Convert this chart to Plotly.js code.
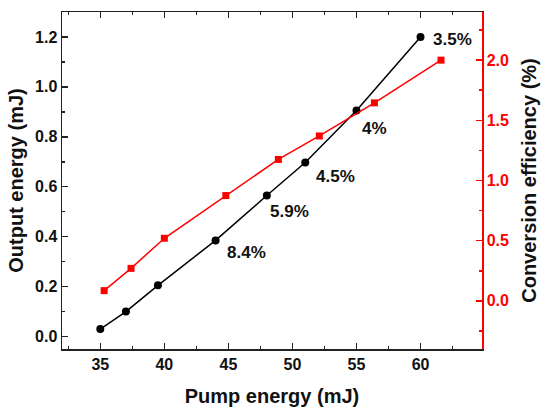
<!DOCTYPE html>
<html><head><meta charset="utf-8">
<script src="https://cdn.plot.ly/plotly-3.0.1.min.js"></script>
<style>html,body{margin:0;padding:0;background:#fff}#c{width:550px;height:413px}</style>
</head><body><div id="c"></div>
<script>
var pumpOut = [35, 37, 39.5, 44, 48, 51, 55, 60];
var outputEnergy = [0.03, 0.10, 0.205, 0.385, 0.565, 0.697, 0.905, 1.2];
var pumpEff = [35.3, 37.4, 40, 44.8, 48.9, 52.1, 56.4, 61.6];
var conversionEff = [0.085, 0.27, 0.52, 0.875, 1.175, 1.37, 1.645, 2.0];
var labelText = ["8.4%", "5.9%", "4.5%", "4%", "3.5%"];
var labelX = [46.45, 49.8, 53.4, 56.4, 62.5];
var labelY = [0.335, 0.50, 0.64, 0.835, 1.19];

var F = "Liberation Sans, Arial, sans-serif";
var axc = "#222";
var traces = [
  {x: pumpOut, y: outputEnergy, mode: "lines+markers", type: "scatter",
   line: {color: "#000", width: 1.5}, marker: {symbol: "circle", size: 8, color: "#000"},
   yaxis: "y", showlegend: false, hoverinfo: "skip"},
  {x: pumpEff, y: conversionEff, mode: "lines+markers", type: "scatter",
   line: {color: "#ff0000", width: 1.5}, marker: {symbol: "square", size: 7, color: "#ff0000"},
   yaxis: "y2", showlegend: false, hoverinfo: "skip"}
];
var ann = labelText.map(function (t, i) {
  return {x: labelX[i], y: labelY[i], xref: "x", yref: "y", text: t, showarrow: false,
          xanchor: "center", yanchor: "middle", font: {family: F, size: 17, color: "#111", weight: "bold"}};
});
var layout = {
  width: 550, height: 413,
  margin: {l: 62, r: 68, t: 12, b: 64},
  paper_bgcolor: "#fff", plot_bgcolor: "#fff",
  annotations: ann,
  xaxis: {range: [32.01, 64.8], tickvals: [35, 40, 45, 50, 55, 60], ticks: "inside", ticklen: 6, tickwidth: 1.5,
          tickcolor: axc, showline: true, linecolor: axc, linewidth: 1.5, mirror: "ticks", showgrid: false, zeroline: false,
          minor: {dtick: 2.5, tick0: 0, ticks: "inside", ticklen: 3, tickwidth: 1.5, tickcolor: axc, showgrid: false},
          tickfont: {family: F, size: 16, color: "#111", weight: "bold"},
          title: {text: "Pump energy (mJ)", font: {family: F, size: 20, color: "#111", weight: "bold"}, standoff: 17}},
  yaxis: {range: [-0.05, 1.3], tickvals: [0, 0.2, 0.4, 0.6, 0.8, 1.0, 1.2], ticktext: ["0.0","0.2","0.4","0.6","0.8","1.0","1.2"],
          ticks: "inside", ticklen: 6, tickwidth: 1.5, tickcolor: axc, showline: true, linecolor: axc, linewidth: 1.5,
          showgrid: false, zeroline: false,
          minor: {dtick: 0.1, tick0: 0, ticks: "inside", ticklen: 3, tickwidth: 1.5, tickcolor: axc, showgrid: false},
          tickfont: {family: F, size: 16, color: "#111", weight: "bold"},
          title: {text: "Output energy (mJ)", font: {family: F, size: 20, color: "#111", weight: "bold"}, standoff: 6}},
  yaxis2: {overlaying: "y", side: "right", range: [-0.4, 2.4], tickvals: [0, 0.5, 1.0, 1.5, 2.0], ticktext: ["0.0","0.5","1.0","1.5","2.0"],
          ticks: "inside", ticklen: 6, tickwidth: 1.5, tickcolor: "#ff0000", showline: true, linecolor: "#ff0000", linewidth: 1.5,
          showgrid: false, zeroline: false,
          minor: {dtick: 0.25, tick0: 0, ticks: "inside", ticklen: 3, tickwidth: 1.5, tickcolor: "#ff0000", showgrid: false},
          tickfont: {family: F, size: 16, color: "#ff0000", weight: "bold"},
          title: {text: "Conversion efficiency (%)", font: {family: F, size: 20, color: "#111", weight: "bold"}, standoff: 14}}
};
Plotly.newPlot("c", traces, layout, {staticPlot: true, displayModeBar: false});
</script></body></html>
